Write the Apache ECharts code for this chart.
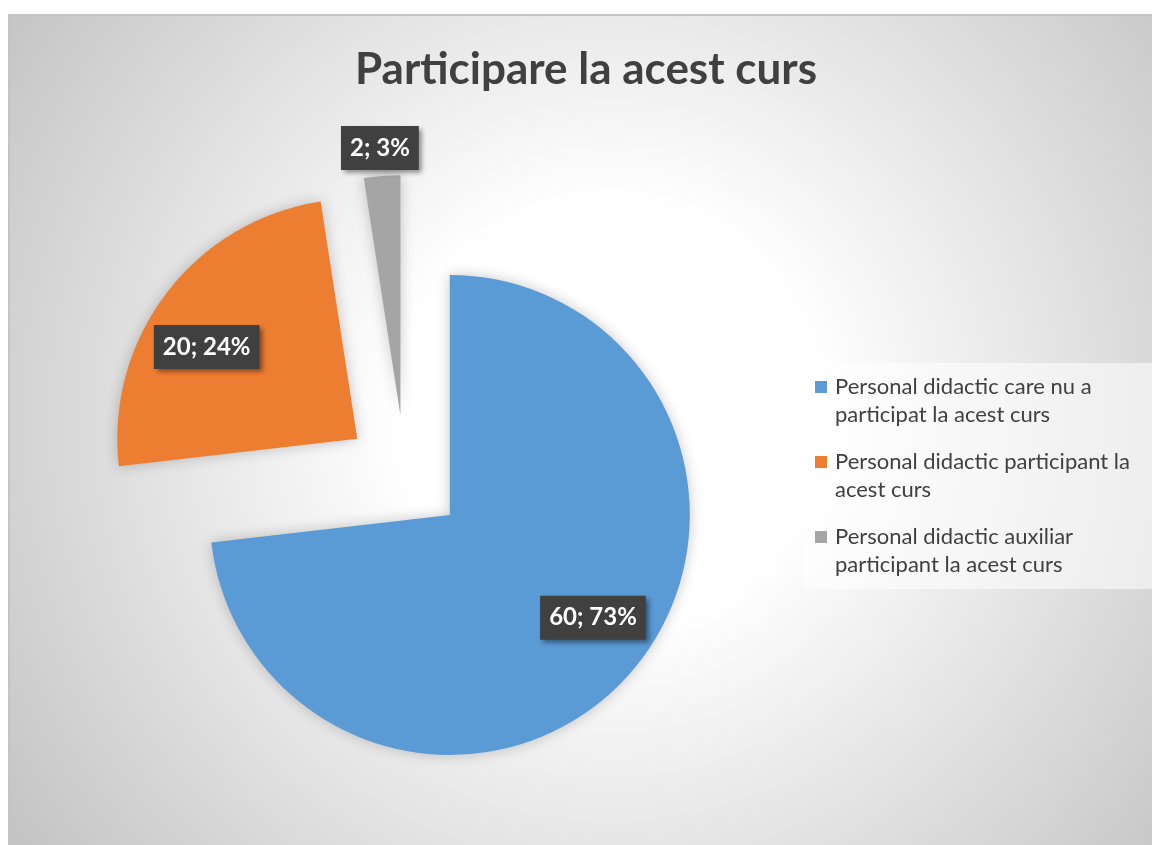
<!DOCTYPE html>
<html>
<head>
<meta charset="utf-8">
<script src="https://cdn.jsdelivr.net/npm/echarts@6/dist/echarts.min.js"></script>
<style>
  html, body { margin: 0; padding: 0; width: 1152px; height: 845px; background: #ffffff; overflow: hidden; }
  #frame {
    position: absolute; left: 8px; top: 14px; width: 1160px; height: 850px;
    border-left: 2px solid #c4c4c4; border-top: 2px solid #c4c4c4;
    background: radial-gradient(circle at 600px 400px, #ffffff 0px, #ffffff 210px, #c4c4c4 730px);
  }
  #chart { position: absolute; left: 0; top: 0; width: 1152px; height: 845px; }
</style>
</head>
<body>
<div id="frame"></div>
<div id="chart"></div>
<script>
const titleText = 'Participare la acest curs';
const categories = [
  'Personal didactic care nu a participat la acest curs',
  'Personal didactic participant la acest curs',
  'Personal didactic auxiliar participant la acest curs'
];
const values = [60, 20, 2];
const percents = ['73%', '24%', '3%'];
const colors = ['#5B9BD5', '#ED7D31', '#A5A5A5'];

const chart = echarts.init(document.getElementById('chart'), null, { renderer: 'canvas' });

const pieCenter = [405, 475];
const pieRadius = 240;
const explode = 60;

const labelStyle = {
  position: 'inside',
  formatter: (p) => p.value + '; ' + percents[p.dataIndex],
  fontFamily: 'Lato', fontWeight: 'bold', fontSize: 24, color: '#ffffff',
  backgroundColor: '#404040',
  padding: [11, 9, 9, 9],
  shadowBlur: 5, shadowOffsetX: 3, shadowOffsetY: 3, shadowColor: 'rgba(0,0,0,0.45)'
};

function buildData(showIdx, transparent) {
  return categories.map((c, i) => ({
    name: c, value: values[i], selected: true,
    itemStyle: { color: transparent ? 'rgba(0,0,0,0)' : colors[i] },
    label: { show: showIdx.indexOf(i) >= 0 }
  }));
}

function labelSeries(radius, startAngle, showIdx) {
  return {
    type: 'pie',
    center: pieCenter,
    radius: radius,
    startAngle: startAngle,
    clockwise: true,
    selectedMode: 'multiple',
    selectedOffset: explode,
    emphasis: { disabled: true },
    silent: true,
    labelLine: { show: false },
    label: labelStyle,
    itemStyle: { borderWidth: 0 },
    data: buildData(showIdx, true)
  };
}

const option = {
  animation: false,
  title: {
    text: titleText,
    left: 350, top: 43,
    textStyle: { fontFamily: 'Lato', fontWeight: 'bold', fontSize: 44, color: '#404040' }
  },
  legend: {
    orient: 'vertical',
    left: 803, top: 363,
    padding: [10, 12, 10, 12],
    backgroundColor: 'rgba(255,255,255,0.55)',
    itemWidth: 12, itemHeight: 40,
    icon: 'path://M0,0L12,0L12,12L0,12Z M0,40L0.001,40',
    itemGap: 19,
    selectedMode: false,
    textStyle: { fontFamily: 'Lato', fontSize: 22, lineHeight: 28, color: '#404040', width: 306, overflow: 'break', padding: [0, 0, 0, 3] },
    data: categories
  },
  series: [
    {
      type: 'pie',
      center: pieCenter,
      radius: pieRadius,
      startAngle: 90,
      clockwise: true,
      selectedMode: 'multiple',
      selectedOffset: explode,
      emphasis: { disabled: true },
      silent: true,
      label: { show: false },
      labelLine: { show: false },
      itemStyle: { borderWidth: 0, shadowBlur: 14, shadowColor: 'rgba(0,0,0,0.22)' },
      data: buildData([], false)
    },
    labelSeries(346, 94.5, [0, 1]),
    labelSeries(530, 90, [2])
  ]
};
chart.setOption(option);
</script>
</body>
</html>
